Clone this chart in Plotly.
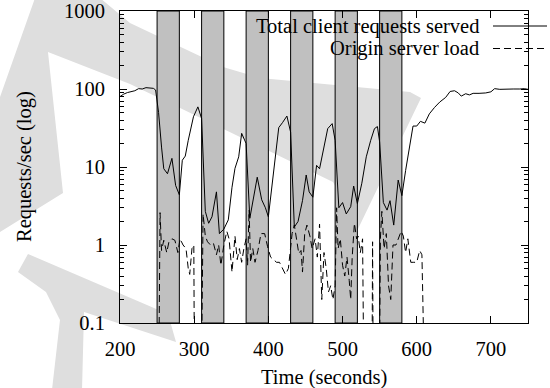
import plotly.graph_objects as go

# ---------------- data ----------------
time_total = [200, 205, 210, 215, 220, 225, 230, 235, 240, 245, 248,
              252, 256, 259, 264, 270, 275, 280,
              284, 288, 292, 295, 299, 305, 310,
              315, 319.5, 324, 330, 334, 340,
              346, 351, 355, 360, 364, 370,
              375, 380, 385, 391, 396, 400,
              405, 410, 414, 419, 425, 430,
              435, 440, 446, 451, 455, 460,
              465, 469, 475, 480, 486, 490,
              495, 500, 505, 511, 515, 520,
              526, 532, 538, 543, 547, 550,
              555, 560, 564, 569, 575, 580,
              585, 590, 595, 600, 605, 611, 617, 624, 631, 639, 645, 651,
              656, 660, 666, 671, 676, 684, 693, 700, 705, 712, 720, 730,
              739, 745, 750]
total = [80, 86, 90, 93, 95, 101, 100, 104, 104, 102, 97,
         50, 18, 9.5, 8.2, 12.9, 5.8, 4.4,
         12.2, 13.8, 22, 30, 44, 59, 42,
         2.7, 1.9, 2.3, 4.8, 1.4, 1.6,
         2.1, 5.5, 9.6, 13.5, 27, 20,
         2.2, 4.2, 7.4, 3.8, 3.0, 2.3,
         5.6, 16, 32, 37, 45, 28,
         1.7, 2.0, 3.7, 7.9, 4.8, 4.1,
         10.5, 9.5, 18, 31, 36, 22,
         3.0, 3.5, 2.5, 3.1, 5.7, 3.4,
         6.2, 13.5, 22, 31, 33, 21,
         3.5, 2.8, 3.7, 1.8, 6.8, 4.3,
         9, 18, 33.5, 33.5, 38.5, 36.5, 48, 58, 68, 78, 93, 95,
         89, 81, 87, 84, 88, 88, 89, 92, 101, 99, 100, 100,
         100, 101, 99]

time_origin = [252, 254, 256, 259, 263, 266, 270, 274, 278, 281, 285, 289,
               292, 294, 297, 299.5, 300.5, 309.5, 312, 315, 318, 322, 326,
               330, 333, 336, 340, 344, 347, 351, 355, 358, 361, 364, 367,
               370, 372, 374, 376, 379, 382, 386, 390, 395, 399, 403, 407,
               411, 415, 419, 423, 427, 430, 432, 435, 438, 441, 444, 446,
               449, 452, 456, 459, 463, 466, 469, 472, 475, 478, 481, 484,
               487, 490, 492, 494, 497, 500, 503, 506, 509, 511, 513, 516,
               519, 521, 524, 527, 529, 539.5, 540.5, 541.5, 549.5, 551, 553,
               556, 559, 562, 565, 568, 572, 576, 579, 582, 585, 588, 592,
               596, 600, 604, 607, 611]
origin = [0.01, 2.6, 0.85, 1.15, 0.8, 1.1, 1.2, 1.15, 0.8, 1.2, 1.0, 0.9,
          0.5, 0.42, 0.9, 1.0, 0.01, 0.01, 2.5, 1.3, 1.1, 1.0, 1.05,
          0.75, 1.0, 0.55, 1.0, 1.5, 1.2, 0.45, 1.3, 0.65, 0.9, 0.6, 0.9,
          1.2, 0.55, 2.8, 0.6, 0.9, 0.6, 0.85, 1.4, 1.4, 0.95, 0.7, 0.65,
          0.6, 0.6, 0.5, 0.42, 0.5, 1.0, 1.4, 1.8, 1.1, 0.78, 0.85, 0.45,
          1.4, 1.8, 1.3, 0.9, 1.2, 0.7, 1.85, 0.2, 0.8, 0.5, 0.25, 0.3,
          0.2, 0.3, 3.0, 0.9, 1.2, 0.55, 0.4, 0.7, 0.35, 0.2, 0.7, 1.9,
          1.2, 1.3, 0.8, 1.2, 0.01, 0.01, 1.1, 0.01, 0.01, 1.2, 2.7,
          0.9, 1.4, 0.3, 0.2, 1.0, 1.0, 1.3, 1.5, 1.3, 0.8, 1.2, 0.6,
          0.6, 0.6, 0.85, 0.75, 0.01]

band_starts = [250, 310, 370, 430, 490, 550]
band_ends = [280, 340, 400, 460, 520, 580]

x_ticks = [200, 300, 400, 500, 600, 700]
y_ticks = [0.1, 1, 10, 100, 1000]
y_tick_labels = ["0.1", "1", "10", "100", "1000"]

series_names = ["Total client requests served", "Origin server load"]
x_title = "Time (seconds)"
y_title = "Requests/sec (log)"

# ---------------- layout geometry / style ----------------
W, H = 550, 388
ML, MR, MT, MB = 120, 22, 11, 65
PW, PH = W - ML - MR, H - MT - MB
FONT = "Liberation Serif"
FS = 20.5
BAND_FILL = "#c0c0c0"
WM_FILL = "#dedede"


def paper(x, y):
    return (x - ML) / PW, (H - MB - y) / PH


def poly_path(pts):
    s = ""
    for i, (x, y) in enumerate(pts):
        px, py = paper(x, y)
        s += ("M" if i == 0 else "L") + f"{px:.4f},{py:.4f} "
    return s + "Z"


# faint background watermark (pixel outlines)
watermark = [
    [(100, -2), (130, 23), (223, 67), (260, 78), (410, 92), (421, 98),
     (358, 229), (333, 182), (267, 150), (178, 107), (130, 84), (48, 52),
     (63, 193), (0, 232), (-20, 200), (0, 97), (35, -2)],
    [(28, 254), (168, 314), (176, 342), (84, 312), (82, 390), (52, 390),
     (60, 320), (46, 292), (18, 272)],
]

shapes = []
for poly in watermark:
    shapes.append(dict(type="path", xref="paper", yref="paper",
                       path=poly_path(poly), fillcolor=WM_FILL,
                       line=dict(width=0), layer="below"))

for b0, b1 in zip(band_starts, band_ends):
    shapes.append(dict(type="rect", xref="x", yref="paper", x0=b0, x1=b1,
                       y0=0, y1=1, fillcolor=BAND_FILL,
                       line=dict(color="black", width=1), layer="below"))

fig = go.Figure()
fig.add_trace(go.Scatter(x=time_total, y=total, mode="lines",
                         name=series_names[0],
                         line=dict(color="black", width=1)))
fig.add_trace(go.Scatter(x=time_origin, y=origin, mode="lines",
                         name=series_names[1],
                         line=dict(color="black", width=1, dash="7px,4px")))

# gnuplot-like key: text then line sample
key_rows = [(26, "solid"), (48.5, "7px,4px")]
annotations = []
for (ky, dash), name in zip(key_rows, series_names):
    tx, ty = paper(481, ky)
    annotations.append(dict(x=tx, y=ty, xref="paper", yref="paper",
                            text=name, showarrow=False, xanchor="right",
                            yanchor="middle",
                            font=dict(family=FONT, size=FS, color="black")))
    lx0, ly = paper(493, ky)
    lx1, _ = paper(547, ky)
    shapes.append(dict(type="line", xref="paper", yref="paper",
                       x0=lx0, x1=lx1, y0=ly, y1=ly,
                       line=dict(color="black", width=1, dash=dash),
                       layer="above"))

ax_, ay_ = paper(324, 377)
annotations.append(dict(x=ax_, y=ay_, xref="paper", yref="paper",
                        text=x_title, showarrow=False, xanchor="center",
                        yanchor="middle",
                        font=dict(family=FONT, size=FS, color="black")))
bx_, by_ = paper(24, 167)
annotations.append(dict(x=bx_, y=by_, xref="paper", yref="paper",
                        text=y_title, showarrow=False, textangle=-90,
                        xanchor="center", yanchor="middle",
                        font=dict(family=FONT, size=FS, color="black")))

minor_y = [m * 10 ** e for e in range(-1, 3) for m in range(2, 10)]

fig.update_layout(
    width=W, height=H,
    margin=dict(l=ML, r=MR, t=MT, b=MB, pad=0, autoexpand=False),
    paper_bgcolor="white", plot_bgcolor="rgba(0,0,0,0)",
    showlegend=False,
    font=dict(family=FONT, size=FS, color="black"),
    shapes=shapes, annotations=annotations,
    xaxis=dict(range=[200, 750], tickvals=x_ticks, ticks="inside",
               ticklen=7, tickcolor="black", mirror="ticks", showline=True,
               linecolor="black", linewidth=1, showgrid=False,
               zeroline=False, ticklabelstandoff=7, automargin=False,
               tickfont=dict(family=FONT, size=FS, color="black")),
    yaxis=dict(type="log", range=[-1, 3], tickvals=y_ticks,
               ticktext=y_tick_labels, ticks="inside", ticklen=7,
               tickcolor="black", mirror="ticks", showline=True,
               linecolor="black", linewidth=1, showgrid=False,
               zeroline=False, ticklabelstandoff=10, automargin=False,
               minor=dict(ticks="inside", ticklen=4, tickcolor="black",
                          tickvals=minor_y, showgrid=False),
               tickfont=dict(family=FONT, size=FS, color="black")),
)

fig.write_html("out.html")
